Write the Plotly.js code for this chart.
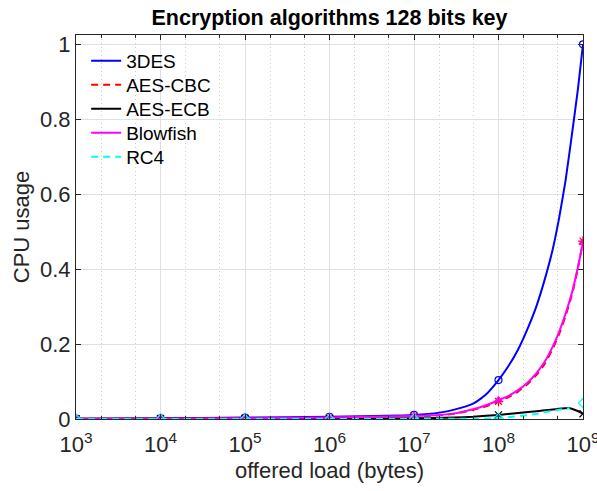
<!DOCTYPE html>
<html>
<head>
<meta charset="utf-8">
<script src="https://cdn.plot.ly/plotly-3.0.1.min.js"></script>
<style>html,body{margin:0;padding:0;background:#fff;}#chart{width:597px;height:491px;}</style>
</head>
<body>
<div id="chart"></div>
<script>
// Marker data at each decade
var decades = [1e3, 1e4, 1e5, 1e6, 1e7, 1e8, 1e9];
var des3    = [0.001, 0.002, 0.004, 0.006, 0.011, 0.104, 1.000];
var aesCbc  = [0.001, 0.001, 0.002, 0.003, 0.007, 0.047, 0.475];
var aesEcb  = [0.001, 0.001, 0.001, 0.001, 0.002, 0.011, 0.014];
var blowfish= [0.001, 0.001, 0.002, 0.004, 0.008, 0.050, 0.471];
var rc4     = [0.000, 0.000, 0.000, 0.000, 0.001, 0.002, 0.043];

var des3CurveX = [2e7, 3e7, 5e7, 7e7, 1.3e8, 1.7e8, 2.2e8, 2.8e8, 3.5e8, 4.35e8, 5.2e8, 6.2e8, 7.5e8, 8.7e8];
var des3CurveY = [0.017, 0.025, 0.041, 0.064, 0.140, 0.185, 0.240, 0.300, 0.370, 0.450, 0.535, 0.635, 0.770, 0.880];
var aesCbcCurveX = [2e7, 3e7, 5e7, 7e7, 1.3e8, 1.7e8, 2.2e8, 2.8e8, 3.5e8, 4.35e8, 5.2e8, 6.2e8, 7.5e8, 8.7e8];
var aesCbcCurveY = [0.010, 0.014, 0.024, 0.033, 0.058, 0.073, 0.093, 0.117, 0.146, 0.186, 0.226, 0.274, 0.337, 0.402];
var blowCurveX = [2e7, 3e7, 5e7, 7e7, 1.3e8, 1.7e8, 2.2e8, 2.8e8, 3.5e8, 4.35e8, 5.2e8, 6.2e8, 7.5e8, 8.7e8];
var blowCurveY = [0.011, 0.015, 0.026, 0.036, 0.061, 0.077, 0.097, 0.122, 0.152, 0.192, 0.232, 0.280, 0.342, 0.405];
var aesEcbCurveX = [3e7, 5e7, 2.57e8, 5e8, 6.96e8, 8.5e8];
var aesEcbCurveY = [0.004, 0.006, 0.020, 0.027, 0.029, 0.022];
var rc4CurveX = [3e7, 5e7, 2.5e8, 5e8, 6.96e8];
var rc4CurveY = [0.001, 0.001, 0.012, 0.024, 0.029];

var names = ['3DES', 'AES-CBC', 'AES-ECB', 'Blowfish', 'RC4'];
var xTickVals = [1e3, 1e4, 1e5, 1e6, 1e7, 1e8, 1e9];
var xTickText = ['10<sup>3</sup>','10<sup>4</sup>','10<sup>5</sup>','10<sup>6</sup>','10<sup>7</sup>','10<sup>8</sup>','10<sup>9</sup>'];
var yTickVals = [0, 0.2, 0.4, 0.6, 0.8, 1];
var yTickText = ['0', '0.2', '0.4', '0.6', '0.8', '1'];

function merge(xa, ya, xb, yb, maxX) {
  var pts = [];
  for (var i = 0; i < xa.length; i++) if (xa[i] <= maxX) pts.push([xa[i], ya[i]]);
  for (var j = 0; j < xb.length; j++) pts.push([xb[j], yb[j]]);
  pts.sort(function (a, b) { return a[0] - b[0]; });
  return {x: pts.map(function (p) { return p[0]; }), y: pts.map(function (p) { return p[1]; })};
}

var series = [
  {name: names[0], y: des3, cx: des3CurveX, cy: des3CurveY, color: '#0000ff', dash: 'solid', sym: 'circle-open', size: 7, maxX: 1e9},
  {name: names[1], y: aesCbc, cx: aesCbcCurveX, cy: aesCbcCurveY, color: '#ff0000', dash: '7px,5px', sym: 'asterisk-open', size: 8, maxX: 1e9},
  {name: names[2], y: aesEcb, cx: aesEcbCurveX, cy: aesEcbCurveY, color: '#000000', dash: 'solid', sym: 'x-thin-open', size: 7, maxX: 1e9},
  {name: names[3], y: blowfish, cx: blowCurveX, cy: blowCurveY, color: '#ff00ff', dash: 'solid', sym: 'triangle-up-open', size: 7, maxX: 1e9},
  {name: names[4], y: rc4, cx: rc4CurveX, cy: rc4CurveY, color: '#00ffff', dash: '7px,5px', sym: 'diamond-open', size: 7, maxX: 1e8}
];

var font = 'Liberation Sans, Arial, Helvetica, sans-serif';
var legendIds = ['legend', 'legend2', 'legend3', 'legend4', 'legend5'];

var traces = [];
series.forEach(function (s, k) {
  var m = merge(decades, s.y, s.cx, s.cy, s.maxX);
  traces.push({
    x: m.x, y: m.y, type: 'scatter', mode: 'lines', name: s.name, legend: legendIds[k],
    line: {color: s.color, width: 2, dash: s.dash, shape: 'spline', smoothing: 0.5},
    hoverinfo: 'skip'
  });
  traces.push({
    x: decades, y: s.y, type: 'scatter', mode: 'markers', showlegend: false,
    marker: {symbol: s.sym, size: s.size, color: s.color, line: {color: s.color, width: 1.2}}
  });
});

var layout = {
  width: 597, height: 491,
  margin: {l: 76, r: 14, t: 35, b: 72},
  paper_bgcolor: '#ffffff', plot_bgcolor: '#ffffff',
  font: {family: font, size: 20, color: '#262626'},
  title: {text: '<b>Encryption algorithms 128 bits key</b>', x: 0.5, xref: 'paper', xanchor: 'center', y: 0.965, yref: 'container', yanchor: 'middle', font: {family: font, size: 21.5, color: '#000000'}},
  showlegend: true,
  xaxis: {
    type: 'log', range: [3, 9], tickvals: xTickVals, ticktext: xTickText,
    showgrid: true, gridcolor: '#e0e0e0', gridwidth: 1,
    minor: {ticks: 'inside', ticklen: 3, tickcolor: '#262626', showgrid: true, gridcolor: '#cccccc', griddash: '1px,3px', gridwidth: 1},
    ticks: 'inside', ticklen: 5, tickcolor: '#262626',
    showline: true, linecolor: '#262626', linewidth: 1, mirror: 'allticks', zeroline: false,
    tickfont: {family: font, size: 22, color: '#262626'}, ticklabeloverflow: 'allow', ticklabelstandoff: 6,
    title: {text: 'offered load (bytes)', font: {family: font, size: 22, color: '#262626'}, standoff: 6}
  },
  yaxis: {
    range: [0, 1.025], tickvals: yTickVals, ticktext: yTickText,
    showgrid: true, gridcolor: '#e0e0e0', gridwidth: 1,
    ticks: 'inside', ticklen: 5, tickcolor: '#262626',
    showline: true, linecolor: '#262626', linewidth: 1, mirror: 'allticks', zeroline: false,
    tickfont: {family: font, size: 22, color: '#262626'},
    title: {text: 'CPU usage', font: {family: font, size: 22, color: '#262626'}, standoff: 4}
  }
};

// one legend box per entry so the rows keep the reference's 24px pitch
var plotH = 491 - 35 - 72;
legendIds.forEach(function (id, k) {
  layout[id] = {
    x: 0.02, xanchor: 'left', yanchor: 'middle',
    y: (419 - (61 + 24 * k)) / plotH,
    bgcolor: 'rgba(255,255,255,0)', borderwidth: 0,
    font: {family: font, size: 19, color: '#000000'}
  };
});

Plotly.newPlot('chart', traces, layout, {staticPlot: true, displayModeBar: false});
</script>
</body>
</html>
